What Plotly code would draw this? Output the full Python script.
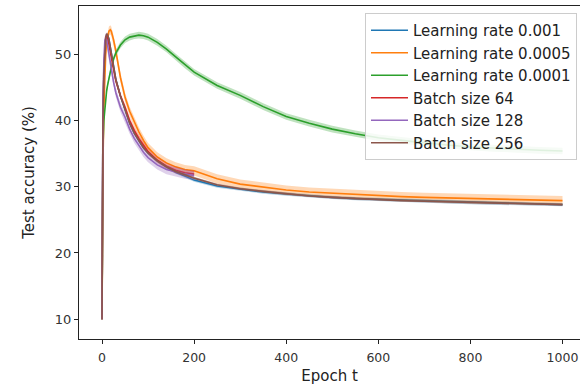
import plotly.graph_objects as go

# ---- data ----
epochs_full = [0, 1, 2, 4, 6, 8, 10, 12, 15, 18, 20, 25, 30, 40, 50, 60, 70, 80, 90, 100,
               120, 140, 160, 180, 200, 250, 300, 350, 400, 450, 500, 550, 600, 650, 700,
               750, 800, 850, 900, 950, 1000]
epochs_short = [0, 1, 2, 4, 6, 8, 10, 12, 15, 18, 20, 25, 30, 40, 50, 60, 70, 80, 90, 100,
                120, 140, 160, 180, 200]

lr_0001 = [10, 30, 40, 47, 50.5, 52.3, 53, 53, 52.3, 51, 50, 47.8, 46.2, 43.7, 41.5, 39.6,
           38.1, 36.9, 35.9, 35.1, 33.9, 33.0, 32.2, 31.6, 31.0, 30.1, 29.6, 29.2, 28.9, 28.6,
           28.4, 28.2, 28.1, 27.9, 27.8, 27.7, 27.6, 27.5, 27.4, 27.35, 27.3]
lr_00005 = [10, 25, 33, 42, 47, 50, 51.8, 52.8, 53.5, 53.7, 53.5, 52.2, 50.5, 46.5, 43.5,
            41.4, 39.7, 38.3, 37.0, 35.9, 34.5, 33.6, 33.0, 32.6, 32.4, 31.2, 30.4, 29.9,
            29.5, 29.2, 29.0, 28.8, 28.7, 28.5, 28.4, 28.3, 28.2, 28.1, 28.0, 27.95, 27.9]
lr_00001 = [10, 30, 36, 40, 42, 43.5, 44.5, 45.3, 46.5, 47.5, 48, 49.3, 50.2, 51.4, 52.2,
            52.6, 52.8, 52.9, 52.8, 52.6, 51.8, 50.8, 49.6, 48.4, 47.3, 45.3, 43.8, 42.1,
            40.6, 39.6, 38.7, 38.0, 37.4, 37.0, 36.6, 36.3, 36.0, 35.8, 35.6, 35.5, 35.4]
bs_64 = [10, 30, 40, 48, 51.5, 52.6, 52.8, 52.5, 51.5, 50.3, 49.5, 47.5, 46, 43.7, 42, 40,
         38.5, 37.3, 36.2, 35.3, 34.0, 33.1, 32.5, 32.1, 31.9]
bs_128 = [10, 32, 42, 49, 52, 52.5, 52.2, 51.4, 50, 48.6, 47.8, 45.8, 44.2, 42.0, 40.5,
          38.7, 37.3, 36.2, 35.2, 34.4, 33.3, 32.6, 32.2, 31.9, 31.7]
bs_256 = [10, 30, 40, 47, 50.5, 52.3, 53, 53, 52.3, 51, 50, 47.8, 46.2, 43.7, 41.5, 39.6,
          38.1, 36.9, 35.9, 35.1, 33.9, 33.0, 32.3, 31.8, 31.3, 30.3, 29.7, 29.3, 28.9, 28.6,
          28.4, 28.2, 28.1, 27.9, 27.8, 27.7, 27.6, 27.5, 27.4, 27.35, 27.3]

# standard deviation of each run (band half-width, accuracy %)
std_lr_0001 = 0.25
std_lr_00005 = 0.7
std_lr_00001 = 0.5
std_bs_64 = 0.5
std_bs_128 = 0.7
std_bs_256 = 0.2

series = [
    ("Learning rate 0.001", epochs_full, lr_0001, std_lr_0001, "#1f77b4", "rgba(31,119,180,0.3)"),
    ("Learning rate 0.0005", epochs_full, lr_00005, std_lr_00005, "#ff7f0e", "rgba(255,127,14,0.3)"),
    ("Learning rate 0.0001", epochs_full, lr_00001, std_lr_00001, "#2ca02c", "rgba(44,160,44,0.3)"),
    ("Batch size 64", epochs_short, bs_64, std_bs_64, "#d62728", "rgba(214,39,40,0.3)"),
    ("Batch size 128", epochs_short, bs_128, std_bs_128, "#9467bd", "rgba(148,103,189,0.3)"),
    ("Batch size 256", epochs_full, bs_256, std_bs_256, "#8c564b", "rgba(140,86,75,0.3)"),
]

fig = go.Figure()
for name, xs, ys, sd, col, fcol in series:
    upper = [v + sd for v in ys]
    lower = [v - sd for v in ys]
    fig.add_trace(go.Scatter(x=xs, y=ys, mode="lines", name=name, legendgroup=name,
                             line=dict(color=col, width=1.6)))
    fig.add_trace(go.Scatter(x=xs + xs[::-1], y=upper + lower[::-1], mode="lines",
                             fill="toself", fillcolor=fcol, line=dict(width=0),
                             legendgroup=name, showlegend=False, hoverinfo="skip"))

font = "DejaVu Sans, sans-serif"
fig.update_layout(
    width=580, height=385,
    margin=dict(l=79, r=0, t=6, b=46),
    paper_bgcolor="white", plot_bgcolor="white",
    font=dict(family=font, size=15, color="#222"),
    showlegend=True,
    legend=dict(x=(365 - 79) / 501, xanchor="left", y=(339 - 13) / 333, yanchor="top",
                bgcolor="rgba(255,255,255,0.85)", bordercolor="#cccccc", borderwidth=1,
                font=dict(family=font, size=15, color="#222"), tracegroupgap=0,
                itemwidth=37),
    xaxis=dict(range=[-50, 1038], tickvals=[0, 200, 400, 600, 800, 1000],
               showgrid=False, zeroline=False, showline=True, linecolor="#222",
               linewidth=1, mirror=True, ticks="outside", ticklen=4, tickcolor="#222",
               tickfont=dict(color="#333", size=12.5), automargin=False,
               ticklabelstandoff=3, ticklabeloverflow="allow",
               title=dict(text="Epoch t", standoff=6, font=dict(size=15))),
    yaxis=dict(range=[7.0, 57.3], tickvals=[10, 20, 30, 40, 50],
               showgrid=False, zeroline=False, showline=True, linecolor="#222",
               linewidth=1, mirror=False, ticks="outside", ticklen=4, tickcolor="#222",
               tickfont=dict(color="#333", size=13), automargin=False,
               title=dict(text="Test accuracy (%)", standoff=16, font=dict(size=15))),
)

fig.write_html("out.html", config={"displayModeBar": False},
               post_script="document.body.style.margin='0';document.body.style.padding='0';")
